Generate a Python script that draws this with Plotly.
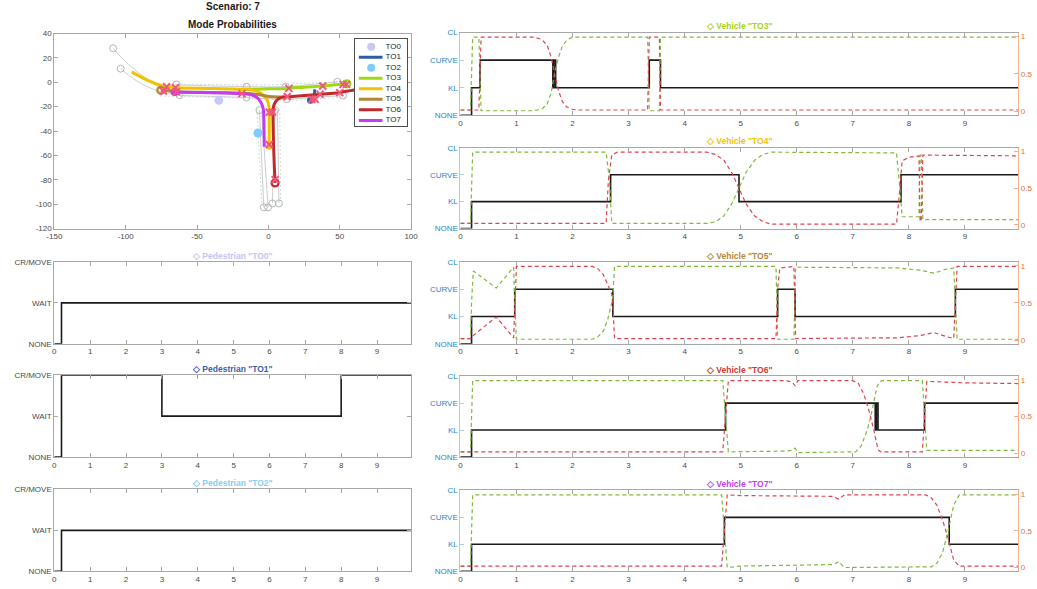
import plotly.graph_objects as go

# ---------------------------------------------------------------
# Canvas and styling
# ---------------------------------------------------------------
W, H = 1037, 589
FONT = "Liberation Sans, Arial, Helvetica, sans-serif"
AX_LINE = "#a8a8a8"
TICK_C = "#4a4a4a"
BLUE = "#2a86cc"
BLUE_LINE = "#a3cff0"
ORANGE = "#e07038"
ORANGE_LINE = "#f2b08e"
STATE_C = "#1a1a1a"
P_KL_C = "#7fba3a"
P_CURVE_C = "#e0444e"
REF_C = "#c9cdcd"
CROSS_C = "#f2577a"

# ---------------------------------------------------------------
# Scene (bird's-eye view) data
# ---------------------------------------------------------------
obj_names = ["TO0", "TO1", "TO2", "TO3", "TO4", "TO5", "TO6", "TO7"]
obj_colors = ["#c9c9f7", "#2f5ca6", "#7fcbff", "#a0d912",
              "#f0c200", "#b58535", "#c12a2a", "#c43cf2"]

scene_xticks = [-150, -100, -50, 0, 50, 100]
scene_yticks = [-120, -100, -80, -60, -40, -20, 0, 20, 40]

# pedestrians (current positions)
TO0_x = [-34.7]
TO0_y = [-14.7]
TO2_x = [-7.3]
TO2_y = [-41.6]

# tracked paths
TO1_x = [29.5, 31.0, 32.3, 32.5]
TO1_y = [-14.7, -12.5, -9.0, -5.8]
TO3_x = [-20.0, -15.6, -8.0, 0.0, 12.1, 25.0, 37.4, 47.0, 55.0]
TO3_y = [-5.9, -5.8, -5.7, -5.4, -5.0, -4.0, -3.1, -2.1, -1.2]
TO4_x = [-95.7, -90.0, -84.6, -79.0, -74.3, -68.0, -63.9, -40.0, -15.6, -12.0,
         -8.6, -5.5, -3.0, -1.2, 0.1, 0.5, 0.6, 0.6]
TO4_y = [8.5, 4.8, 1.5, -1.2, -3.1, -4.0, -4.4, -5.0, -5.8, -6.2,
         -7.1, -8.8, -11.2, -14.0, -17.9, -22.0, -28.7, -52.9]
TO5_x = [-75.4, -70.0, -65.7, -40.0, -18.0, -12.1, -6.0, -1.7, 3.0, 7.5, 11.0]
TO5_y = [-6.6, -7.0, -7.7, -8.3, -8.9, -9.3, -10.3, -11.2, -11.8, -12.0, -12.1]
TO6_x = [4.7, 4.2, 3.6, 3.3, 3.3, 3.6, 4.5, 6.0, 8.0, 9.8, 15.0, 30.5, 48.9,
         55.8, 62.0, 72.0]
TO6_y = [-82.6, -70.0, -50.0, -34.1, -24.0, -20.0, -17.0, -14.6, -13.0, -12.2,
         -11.8, -10.4, -8.5, -7.1, -6.1, -4.5]
TO7_x = [-65.7, -50.0, -30.0, -17.9, -13.0, -9.8, -7.0, -5.2, -4.0, -3.4, -3.1, -2.9]
TO7_y = [-7.9, -8.3, -8.8, -9.3, -9.8, -11.2, -13.5, -16.6, -20.0, -23.3, -35.0, -52.9]

# lane reference paths
ref_a_x = [-108.8, -104.0, -98.0, -92.0, -86.0, -80.0, -74.0, -64.4, -40.0, -15.3, 12.1, 30.0, 48.4]
ref_a_y = [27.9, 21.5, 14.8, 8.8, 3.6, -0.3, -2.6, -2.2, -3.0, -3.6, -3.6, -1.8, 0.4]
ref_b_x = [-103.5, -98.0, -92.0, -86.0, -80.0, -74.0, -62.3, -40.0, -15.3, 12.8, 30.0, 52.3]
ref_b_y = [11.2, 5.8, 0.9, -2.9, -5.9, -8.1, -10.6, -11.5, -12.5, -13.9, -12.5, -11.0]
ref_c_x = [-6.3, -3.2]
ref_c_y = [-22.8, -102.6]
ref_d_x = [-4.8, -0.2]
ref_d_y = [-23.0, -102.6]
ref_e_x = [4.7, 2.8]
ref_e_y = [-22.8, -99.4]
ref_f_x = [6.4, 7.4]
ref_f_y = [-23.0, -99.4]
# dotted lane borders
border_top_x = [-76.0, -40.0, 0.0, 30.0, 56.0]
border_top_y = [-1.6, -1.9, -2.2, -0.6, 0.8]
border_bot_x = [-76.0, -40.0, -10.0, 20.0, 56.0]
border_bot_y = [-11.2, -12.2, -13.2, -14.6, -12.0]
border_l_x = [-8.0, -4.6]
border_l_y = [-22.0, -101.0]
border_r_x = [8.0, 8.6]
border_r_y = [-22.0, -98.0]
# reference waypoints
ref_pts_x = [-108.8, -103.5, -64.4, -62.3, -15.3, -15.3, 12.1, 12.8, 48.4, 52.3,
             -6.3, 4.7, -3.2, -0.2, 2.8, 7.4]
ref_pts_y = [27.9, 11.2, -1.7, -10.6, -3.6, -12.5, -3.6, -13.9, 0.4, -11.0,
             -22.8, -22.8, -102.6, -102.6, -99.4, -99.4]

# predicted way-points
cross_x = [-71.3, -73.6, -65.1, -64.4, -18.6, 0.6, 2.9, 0.6, 4.7, 14.4, 13.2,
           30.5, 32.8, 36.2, 38.1, 50.0, 52.3, 54.7]
cross_y = [-3.6, -7.1, -4.4, -7.9, -9.3, -24.6, -24.6, -51.0, -79.9, -5.0, -11.7,
           -13.9, -13.9, -9.8, -3.1, -8.5, -1.7, -1.7]

# ---------------------------------------------------------------
# Mode timelines
# ---------------------------------------------------------------
T_END = 9.95
time_ticks = [0, 1, 2, 3, 4, 5, 6, 7, 8, 9]
ped_mode_labels = ["NONE", "WAIT", "CR/MOVE"]
veh_mode_labels = ["NONE", "KL", "CURVE", "CL"]
prob_ticks = [0, 0.5, 1]
prob_tick_labels = ["0", "0.5", "1"]

# pedestrians: 0 = NONE, 1 = WAIT, 2 = CR/MOVE
TO0_mode_t = [0, 0.2, 9.95]
TO0_mode = [0, 1, 1]
TO1_mode_t = [0, 0.2, 3.0, 8.0, 9.95]
TO1_mode = [0, 2, 1, 2, 2]
TO2_mode_t = [0, 0.2, 9.95]
TO2_mode = [0, 1, 1]

# vehicles: 0 = NONE, 1 = KL, 2 = CURVE, 3 = CL
TO3_mode_t = [0, 0.2, 0.35, 1.65, 1.67, 1.70, 3.37, 3.57, 9.95]
TO3_mode = [0, 1, 2, 1, 2, 1, 2, 1, 1]
TO3_pkl_t = [0, 0.18, 0.2, 0.22, 0.33, 0.35, 0.37, 1.3, 1.45, 1.55, 1.62, 1.68,
             1.75, 1.82, 1.9, 2.0, 2.1, 3.34, 3.37, 3.55, 3.57, 9.95]
TO3_pkl = [0.02, 0.02, 0.5, 0.99, 0.99, 0.5, 0.01, 0.01, 0.03, 0.1, 0.25, 0.5,
           0.72, 0.87, 0.95, 0.99, 0.99, 0.99, 0.01, 0.01, 0.99, 0.99]
TO3_pcv_t = [0, 0.33, 0.35, 0.37, 1.3, 1.45, 1.55, 1.62, 1.68, 1.75, 1.82, 1.9,
             2.0, 2.1, 3.34, 3.37, 3.55, 3.57, 9.95]
TO3_pcv = [0.02, 0.02, 0.5, 0.99, 0.99, 0.96, 0.88, 0.72, 0.5, 0.28, 0.13, 0.06,
           0.03, 0.02, 0.02, 0.99, 0.99, 0.02, 0.02]

TO4_mode_t = [0, 0.2, 2.68, 4.97, 7.86, 9.95]
TO4_mode = [0, 1, 2, 1, 2, 2]
TO4_pkl_t = [0, 0.18, 0.2, 0.22, 2.6, 2.66, 2.7, 4.4, 4.55, 4.7, 4.85, 4.97, 5.1,
             5.25, 5.4, 5.55, 7.78, 7.84, 7.88, 8.18, 8.2, 8.22, 8.25, 9.95]
TO4_pkl = [0.02, 0.02, 0.5, 0.99, 0.99, 0.6, 0.02, 0.02, 0.04, 0.12, 0.3, 0.5, 0.72,
           0.88, 0.96, 0.99, 0.98, 0.5, 0.11, 0.11, 0.95, 0.95, 0.07, 0.07]
TO4_pcv_t = [0, 2.6, 2.64, 2.7, 2.8, 4.4, 4.55, 4.7, 4.85, 4.97, 5.1, 5.25, 5.4,
             5.55, 7.78, 7.84, 7.88, 8.0, 8.18, 8.2, 8.22, 8.25, 9.95]
TO4_pcv = [0.02, 0.02, 0.6, 0.95, 0.99, 0.99, 0.96, 0.88, 0.7, 0.5, 0.28, 0.12, 0.04,
           0.01, 0.01, 0.5, 0.87, 0.92, 0.94, 0.05, 0.05, 0.95, 0.94]

TO5_mode_t = [0, 0.2, 0.97, 2.72, 5.66, 5.97, 8.83, 9.95]
TO5_mode = [0, 1, 2, 1, 2, 1, 2, 2]
TO5_pkl_t = [0, 0.18, 0.2, 0.23, 0.64, 0.95, 0.97, 1.0, 2.35, 2.45, 2.55, 2.63,
             2.7, 2.72, 2.75, 5.63, 5.66, 5.95, 5.98, 7.0, 7.8, 8.2, 8.45, 8.65,
             8.8, 8.83, 8.86, 9.95]
TO5_pkl = [0.02, 0.02, 0.5, 0.93, 0.70, 0.98, 0.5, 0.01, 0.01, 0.04, 0.12, 0.28,
           0.5, 0.6, 0.99, 0.99, 0.01, 0.01, 0.98, 0.98, 0.97, 0.94, 0.9, 0.95,
           0.97, 0.5, 0.01, 0.01]
TO5_pcv_t = [0, 0.2, 0.23, 0.64, 0.95, 0.97, 1.0, 2.35, 2.45, 2.55, 2.63, 2.7,
             2.72, 2.75, 5.63, 5.66, 5.7, 5.95, 5.98, 7.0, 7.8, 8.2, 8.45, 8.65,
             8.8, 8.83, 8.86, 9.95]
TO5_pcv = [0.02, 0.02, 0.06, 0.31, 0.03, 0.5, 0.99, 0.99, 0.96, 0.88, 0.75, 0.62,
           0.45, 0.02, 0.02, 0.7, 0.97, 0.99, 0.02, 0.02, 0.03, 0.06, 0.1, 0.05,
           0.02, 0.5, 0.99, 0.99]

TO6_mode_t = [0, 0.2, 4.73, 7.40, 7.42, 7.45, 8.28, 9.95]
TO6_mode = [0, 1, 2, 1, 2, 1, 2, 2]
TO6_pkl_t = [0, 0.18, 0.2, 0.22, 4.68, 4.73, 4.78, 5.8, 5.9, 5.97, 6.02, 6.1,
             7.05, 7.15, 7.25, 7.32, 7.38, 7.43, 7.47, 7.52, 8.24, 8.28, 8.32, 9.95]
TO6_pkl = [0.02, 0.02, 0.5, 0.99, 0.99, 0.5, 0.02, 0.03, 0.04, 0.07, 0.01, 0.01,
           0.02, 0.1, 0.3, 0.5, 0.7, 0.9, 0.97, 0.99, 0.99, 0.5, 0.04, 0.04]
TO6_pcv_t = [0, 4.68, 4.73, 4.78, 5.8, 5.92, 5.97, 6.02, 7.0, 7.1, 7.2, 7.3, 7.38,
             7.45, 7.5, 8.24, 8.28, 8.32, 9.0, 9.95]
TO6_pcv = [0.02, 0.02, 0.5, 0.99, 0.99, 0.97, 0.92, 0.99, 0.99, 0.95, 0.8, 0.55,
           0.3, 0.05, 0.02, 0.02, 0.5, 0.98, 0.96, 0.95]

TO7_mode_t = [0, 0.2, 4.71, 8.72, 9.95]
TO7_mode = [0, 1, 2, 1, 1]
TO7_pkl_t = [0, 0.18, 0.2, 0.22, 4.66, 4.71, 4.76, 5.0, 6.0, 6.65, 6.75, 6.85,
             8.4, 8.5, 8.6, 8.7, 8.8, 8.9, 9.95]
TO7_pkl = [0.02, 0.02, 0.5, 0.99, 0.99, 0.5, 0.0, 0.02, 0.03, 0.04, 0.08, 0.0,
           0.01, 0.06, 0.2, 0.5, 0.85, 0.99, 0.99]
TO7_pcv_t = [0, 4.66, 4.71, 4.76, 5.0, 6.0, 6.65, 6.75, 6.85, 8.3, 8.4, 8.5, 8.6,
             8.7, 8.8, 8.9, 9.95]
TO7_pcv = [0.02, 0.02, 0.5, 0.99, 0.98, 0.98, 0.97, 0.93, 0.99, 0.99, 0.95, 0.85,
           0.65, 0.4, 0.1, 0.02, 0.02]

peds = [
    ("TO0", TO0_mode_t, TO0_mode),
    ("TO1", TO1_mode_t, TO1_mode),
    ("TO2", TO2_mode_t, TO2_mode),
]
vehicles = [
    ("TO3", TO3_mode_t, TO3_mode, TO3_pkl_t, TO3_pkl, TO3_pcv_t, TO3_pcv),
    ("TO4", TO4_mode_t, TO4_mode, TO4_pkl_t, TO4_pkl, TO4_pcv_t, TO4_pcv),
    ("TO5", TO5_mode_t, TO5_mode, TO5_pkl_t, TO5_pkl, TO5_pcv_t, TO5_pcv),
    ("TO6", TO6_mode_t, TO6_mode, TO6_pkl_t, TO6_pkl, TO6_pcv_t, TO6_pcv),
    ("TO7", TO7_mode_t, TO7_mode, TO7_pkl_t, TO7_pkl, TO7_pcv_t, TO7_pcv),
]
title_colors = {"TO0": "#c4c4f2", "TO1": "#3a5fa8", "TO2": "#86cdf7",
                "TO3": "#a5d41c", "TO4": "#f0c20e", "TO5": "#b5863c",
                "TO6": "#d03838", "TO7": "#c040ee"}

# ---------------------------------------------------------------
# Panel geometry (pixels)
# ---------------------------------------------------------------
LEFT_X = (47, 409)
RIGHT_X = (459, 1025)
SCENE_Y = (30, 228)
PED_ROWS = [(262, 345), (377, 460), (493, 576)]
VEH_ROWS = [(29, 113), (146, 228), (262, 345), (378, 460), (494, 576)]
LEG_BOX = (352, 405, 36, 124)


def dx(a, b):
    return [a / W, b / W]


def dy(top, bottom):
    return [1 - bottom / H, 1 - top / H]


tick_font = dict(family=FONT, size=8, color=TICK_C)
box_axis = dict(showline=True, linecolor=AX_LINE, linewidth=1, mirror="ticks",
                ticks="inside", ticklen=4, tickcolor=AX_LINE, tickwidth=1,
                showgrid=False, zeroline=False, tickfont=tick_font)

fig = go.Figure()
layout_axes = {}
annotations = []

# ---------------------------------------------------------------
# Scene panel
# ---------------------------------------------------------------
layout_axes["xaxis"] = dict(domain=dx(*LEFT_X), anchor="y", range=[-150, 100],
                            tickvals=scene_xticks,
                            ticktext=[str(v) for v in scene_xticks], **box_axis)
layout_axes["yaxis"] = dict(domain=dy(*SCENE_Y), anchor="x", range=[-120, 40],
                            tickvals=scene_yticks,
                            ticktext=[str(v) for v in scene_yticks], **box_axis)


def scene(trace):
    trace.update(xaxis="x", yaxis="y", hoverinfo="skip", showlegend=False)
    fig.add_trace(trace)


for bx, by in [(border_top_x, border_top_y), (border_bot_x, border_bot_y),
               (border_l_x, border_l_y), (border_r_x, border_r_y)]:
    scene(go.Scatter(x=bx, y=by, mode="lines",
                     line=dict(color="#d6d9d9", width=1, dash="2px,2px")))
for rx, ry in [(ref_a_x, ref_a_y), (ref_b_x, ref_b_y), (ref_c_x, ref_c_y),
               (ref_d_x, ref_d_y), (ref_e_x, ref_e_y), (ref_f_x, ref_f_y)]:
    scene(go.Scatter(x=rx, y=ry, mode="lines", line=dict(color=REF_C, width=1),
                     line_shape="spline"))
scene(go.Scatter(x=ref_pts_x, y=ref_pts_y, mode="markers",
                 marker=dict(symbol="circle-open", size=7, color="#b5b9b9",
                             line=dict(width=1))))

# pedestrians
scene(go.Scatter(x=TO0_x, y=TO0_y, mode="markers",
                 marker=dict(size=9, color=obj_colors[0])))
scene(go.Scatter(x=TO2_x, y=TO2_y, mode="markers",
                 marker=dict(size=9, color=obj_colors[2])))

# vehicle paths
paths = [(TO1_x, TO1_y, 1), (TO3_x, TO3_y, 3), (TO4_x, TO4_y, 4),
         (TO5_x, TO5_y, 5), (TO6_x, TO6_y, 6), (TO7_x, TO7_y, 7)]
for px_, py_, k in paths:
    scene(go.Scatter(x=px_, y=py_, mode="lines",
                     line=dict(color=obj_colors[k], width=3, shape="spline",
                               smoothing=0.6)))

# current positions / path ends
scene(go.Scatter(x=[TO1_x[0]], y=[TO1_y[0]], mode="markers",
                 marker=dict(size=7, color=obj_colors[1])))
scene(go.Scatter(x=[TO3_x[-1]], y=[TO3_y[-1]], mode="markers",
                 marker=dict(symbol="circle-open", size=7, color=obj_colors[3],
                             line=dict(width=2.2))))
scene(go.Scatter(x=[TO4_x[-1]], y=[TO4_y[-1]], mode="markers",
                 marker=dict(size=6, color=obj_colors[4])))
scene(go.Scatter(x=[TO5_x[0]], y=[TO5_y[0]], mode="markers",
                 marker=dict(symbol="circle-open", size=7, color=obj_colors[5],
                             line=dict(width=2.2))))
scene(go.Scatter(x=[TO6_x[0]], y=[TO6_y[0]], mode="markers",
                 marker=dict(symbol="circle-open", size=7, color=obj_colors[6],
                             line=dict(width=2.2))))
scene(go.Scatter(x=[TO7_x[0]], y=[TO7_y[0]], mode="markers",
                 marker=dict(size=8, color=obj_colors[7])))

scene(go.Scatter(x=cross_x, y=cross_y, mode="markers",
                 marker=dict(symbol="x-thin-open", size=7, color=CROSS_C,
                             line=dict(width=2, color=CROSS_C))))

annotations.append(dict(text="<b>Scenario: 7</b>", x=sum(LEFT_X) / 2 / W,
                        y=1 - 2.5 / H, xref="paper", yref="paper", showarrow=False,
                        xanchor="center", yanchor="middle",
                        font=dict(family=FONT, size=10, color="#1a1a1a")))
annotations.append(dict(text="<b>Mode Probabilities</b>", x=sum(LEFT_X) / 2 / W,
                        y=1 - 21 / H, xref="paper", yref="paper", showarrow=False,
                        xanchor="center", yanchor="middle",
                        font=dict(family=FONT, size=10, color="#1a1a1a")))

# legend drawn as a small inset panel
lx0, lx1, ly0, ly1 = LEG_BOX
layout_axes["xaxis10"] = dict(domain=dx(lx0, lx1), anchor="y15", range=[0, lx1 - lx0],
                              showline=True, mirror=True, linecolor="#4d4d4d",
                              linewidth=1, showticklabels=False, ticks="",
                              showgrid=False, zeroline=False, fixedrange=True)
layout_axes["yaxis15"] = dict(domain=dy(ly0, ly1), anchor="x10", range=[ly1 - ly0, 0],
                              showline=True, mirror=True, linecolor="#4d4d4d",
                              linewidth=1, showticklabels=False, ticks="",
                              showgrid=False, zeroline=False, fixedrange=True)
for i, (name, col) in enumerate(zip(obj_names, obj_colors)):
    row = 7.3 + 10.7 * i
    if name in ("TO0", "TO2"):
        fig.add_trace(go.Scatter(x=[16.5], y=[row], mode="markers", xaxis="x10",
                                 yaxis="y15", marker=dict(size=8, color=col),
                                 hoverinfo="skip", showlegend=False))
    else:
        fig.add_trace(go.Scatter(x=[4, 28], y=[row, row], mode="lines", xaxis="x10",
                                 yaxis="y15", line=dict(color=col, width=3),
                                 hoverinfo="skip", showlegend=False))
    fig.add_trace(go.Scatter(x=[31], y=[row], mode="text", text=[name],
                             textposition="middle right", xaxis="x10", yaxis="y15",
                             textfont=dict(family=FONT, size=8, color="#262626"),
                             hoverinfo="skip", showlegend=False))

# ---------------------------------------------------------------
# Pedestrian mode panels
# ---------------------------------------------------------------
for i, (name, mt, mv) in enumerate(peds):
    n = 2 + i
    top, bottom = PED_ROWS[i]
    layout_axes[f"xaxis{n}"] = dict(domain=dx(*LEFT_X), anchor=f"y{n}",
                                    range=[0, T_END], tickvals=time_ticks,
                                    ticktext=[str(t) for t in time_ticks], **box_axis)
    layout_axes[f"yaxis{n}"] = dict(domain=dy(top, bottom), anchor=f"x{n}",
                                    range=[0, 2], tickvals=[0, 1, 2],
                                    ticktext=ped_mode_labels, **box_axis)
    fig.add_trace(go.Scatter(x=mt, y=mv, mode="lines", line_shape="hv",
                             line=dict(color=STATE_C, width=1.6),
                             xaxis=f"x{n}", yaxis=f"y{n}",
                             hoverinfo="skip", showlegend=False))
    annotations.append(dict(text=f'<b>\u25c7 Pedestrian "{name}"</b>',
                            x=sum(LEFT_X) / 2 / W, y=1 - (top - 6.5) / H,
                            xref="paper", yref="paper", showarrow=False,
                            xanchor="center", yanchor="middle",
                            font=dict(family=FONT, size=8.5, color=title_colors[name])))

# ---------------------------------------------------------------
# Vehicle mode panels (state on the left axis, probabilities on the right)
# ---------------------------------------------------------------
for i, (name, mt, mv, kt, kv, ct, cv) in enumerate(vehicles):
    n = 5 + i
    r = 10 + i
    top, bottom = VEH_ROWS[i]
    layout_axes[f"xaxis{n}"] = dict(domain=dx(*RIGHT_X), anchor=f"y{n}",
                                    range=[0, T_END], tickvals=time_ticks,
                                    ticktext=[str(t) for t in time_ticks], **box_axis)
    layout_axes[f"yaxis{n}"] = dict(domain=dy(top, bottom), anchor=f"x{n}",
                                    range=[0, 3], tickvals=[0, 1, 2, 3],
                                    ticktext=veh_mode_labels, showline=True,
                                    linecolor=BLUE_LINE, linewidth=1, mirror=False,
                                    ticks="inside", ticklen=4, tickcolor=BLUE_LINE,
                                    showgrid=False, zeroline=False,
                                    tickfont=dict(family=FONT, size=8, color=BLUE))
    layout_axes[f"yaxis{r}"] = dict(overlaying=f"y{n}", anchor=f"x{n}", side="right",
                                    range=[-0.05, 1.05], tickvals=prob_ticks,
                                    ticktext=prob_tick_labels, showline=True,
                                    linecolor=ORANGE_LINE, linewidth=1,
                                    ticks="inside", ticklen=4, tickcolor=ORANGE_LINE,
                                    showgrid=False, zeroline=False,
                                    tickfont=dict(family=FONT, size=8, color=ORANGE))
    fig.add_trace(go.Scatter(x=mt, y=mv, mode="lines", line_shape="hv",
                             line=dict(color=STATE_C, width=1.6),
                             xaxis=f"x{n}", yaxis=f"y{n}",
                             hoverinfo="skip", showlegend=False))
    fig.add_trace(go.Scatter(x=kt, y=kv, mode="lines",
                             line=dict(color=P_KL_C, width=1.2, dash="4px,3px"),
                             xaxis=f"x{n}", yaxis=f"y{r}",
                             hoverinfo="skip", showlegend=False))
    fig.add_trace(go.Scatter(x=ct, y=cv, mode="lines",
                             line=dict(color=P_CURVE_C, width=1.2, dash="4px,3px"),
                             xaxis=f"x{n}", yaxis=f"y{r}",
                             hoverinfo="skip", showlegend=False))
    annotations.append(dict(text=f'<b>\u25c7 Vehicle "{name}"</b>',
                            x=sum(RIGHT_X) / 2 / W, y=1 - (top - 6.5) / H,
                            xref="paper", yref="paper", showarrow=False,
                            xanchor="center", yanchor="middle",
                            font=dict(family=FONT, size=8.5, color=title_colors[name])))

fig.update_layout(
    width=W, height=H,
    margin=dict(l=0, r=0, t=0, b=0, pad=0),
    paper_bgcolor="white", plot_bgcolor="white",
    font=dict(family=FONT, size=8, color=TICK_C),
    showlegend=False,
    annotations=annotations,
    **layout_axes,
)

fig.write_html("out.html")
